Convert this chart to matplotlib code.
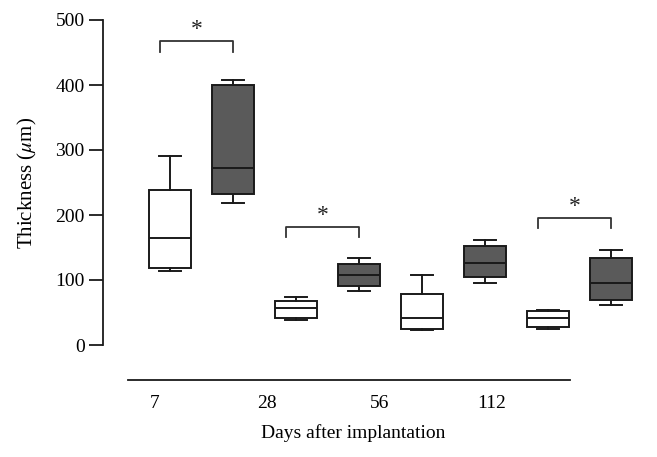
import matplotlib
matplotlib.use('Agg')
import matplotlib.pyplot as plt

# ----------------- data -----------------
days = ['7', '28', '56', '112']
groups = ['control', 'treated']

# box stats (um): whislo, q1, median, q3, whishi
control_lo = [114, 38.5, 22.6, 25]
control_q1 = [118, 42, 24, 28]
control_med = [165, 57.5, 42, 42]
control_q3 = [239, 68, 78, 52]
control_hi = [291, 74.5, 108.4, 54]

treated_lo = [218, 83, 95, 61.7]
treated_q1 = [232, 90.5, 104, 69]
treated_med = [273, 108, 126, 95.6]
treated_q3 = [400, 125, 151.6, 133.6]
treated_hi = [407, 133.6, 162, 145.4]

# significance brackets: group index, bracket height, leg bottom
sig_groups = [0, 1, 3]
sig_top = [468, 182, 196]
sig_leg = [451, 166, 180]

# ----------------- figure -----------------
plt.rcParams['font.family'] = ['Liberation Serif', 'DejaVu Serif']
plt.rcParams['mathtext.fontset'] = 'stix'

W, H = 657, 457
fig = plt.figure(figsize=(W / 100, H / 100), dpi=100)

line_c = '#1a1a1a'
dark_fill = '#5a5a5a'
fs = 14

# main axes: y spine from px 102.7, value 0 at y=345, 500 at y=20
ax = fig.add_axes([102.7 / W, (H - 345) / H, (650 - 102.7) / W, 325 / H])
ax.set_xlim(-0.068, -0.068 + (650 - 102.7) / 63)
ax.set_ylim(0, 500)

stats = []
positions = []
fills = []
for i in range(len(days)):
    stats.append(dict(whislo=control_lo[i], q1=control_q1[i], med=control_med[i],
                      q3=control_q3[i], whishi=control_hi[i], fliers=[]))
    stats.append(dict(whislo=treated_lo[i], q1=treated_q1[i], med=treated_med[i],
                      q3=treated_q3[i], whishi=treated_hi[i], fliers=[]))
    positions += [1 + 2 * i, 2 + 2 * i]
    fills += ['white', dark_fill]

lw = 1.4
bp = ax.bxp(stats, positions=positions, widths=0.67, patch_artist=True,
            showfliers=False, capwidths=0.35,
            boxprops=dict(edgecolor=line_c, linewidth=lw),
            medianprops=dict(color=line_c, linewidth=lw),
            whiskerprops=dict(color=line_c, linewidth=lw),
            capprops=dict(color=line_c, linewidth=lw))
for patch, fc in zip(bp['boxes'], fills):
    patch.set_facecolor(fc)

# significance brackets
for g, top, leg in zip(sig_groups, sig_top, sig_leg):
    x1 = 1 + 2 * g - 0.16
    x2 = 2 + 2 * g
    ax.plot([x1, x1, x2, x2], [leg, top, top, leg], color='#333333', lw=1.3,
            clip_on=False)
    ax.text((x1 + x2) / 2, top + 17, '*', ha='center', va='center',
            fontsize=17, color='#222222', clip_on=False)

ax.spines['top'].set_visible(False)
ax.spines['right'].set_visible(False)
ax.spines['bottom'].set_visible(False)
ax.spines['left'].set_linewidth(1.3)
ax.spines['left'].set_color(line_c)
ax.set_yticks([0, 100, 200, 300, 400, 500])
ax.tick_params(axis='y', direction='out', length=10, width=1.3, color=line_c,
               labelsize=fs, pad=3)
ax.set_xticks([])
ax.set_ylabel(r'Thickness ($\mu$m)', fontsize=15, labelpad=12)

# separate category axis below
ax2 = fig.add_axes([128 / W, (H - 380) / H, (570 - 128) / W, 0.01])
ax2.set_xlim(-0.24, 3.695)
ax2.set_ylim(0, 1)
for s in ['top', 'right', 'left']:
    ax2.spines[s].set_visible(False)
ax2.spines['bottom'].set_linewidth(1.3)
ax2.spines['bottom'].set_color(line_c)
ax2.set_yticks([])
ax2.set_xticks(range(len(days)))
ax2.set_xticklabels(days)
ax2.tick_params(axis='x', length=0, labelsize=fs, pad=11)
ax2.patch.set_visible(False)

fig.text(353 / W, 1 - 433 / H, 'Days after implantation', fontsize=fs,
         ha='center', va='center')

fig.savefig('out.png', dpi=100)
